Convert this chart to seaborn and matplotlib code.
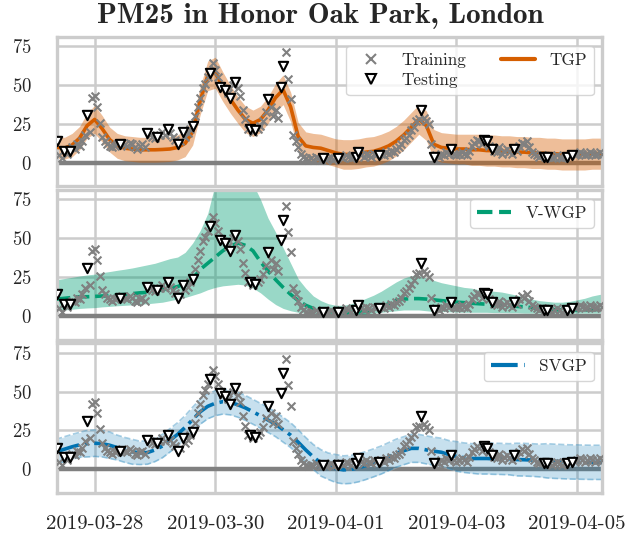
import pandas as pd
import seaborn as sns
import matplotlib.pyplot as plt
from matplotlib.lines import Line2D

# hourly PM2.5 readings, starting 2019-03-27 09:00
start = "2019-03-27 09:00"
pm25 = [
    14, 5, 3, 8, 6, 8, 10, 9, 12, 11, 14, 18,
    31, 20, 42, 43, 36, 26, 17, 14, 12, 11, 10, 11,
    12, 12, 13, 12, 11, 13, 12, 10, 9, 11, 12, 10,
    19, 18, 17, 16, 17, 18, 20, 18, 22, 19, 17, 15,
    12, 14, 20, 17, 19, 22, 24, 30, 36, 42, 48, 51,
    55, 58, 64, 60, 55, 49, 48, 47, 45, 42, 50, 52,
    48, 43, 34, 28, 22, 22, 20, 21, 22, 24, 27, 33,
    41, 36, 30, 34, 29, 49, 62, 71, 54, 41, 18, 14,
    10, 6, 4, 3, 2, 3, 2, 4, 3, 2, 3, 2,
    3, 4, 2, 3, 3, 4, 3, 5, 4, 3, 4, 4,
    7, 5, 4, 6, 5, 4, 6, 5, 5, 6, 5, 7,
    6, 8, 7, 9, 10, 12, 15, 16, 18, 21, 23, 27,
    28, 34, 29, 27, 25, 12, 4, 5, 4, 6, 5, 7,
    6, 9, 6, 5, 6, 7, 6, 5, 8, 11, 13, 15,
    14, 12, 15, 14, 11, 9, 8, 7, 10, 6, 8, 9,
    7, 6, 9, 8, 11, 13, 12, 14, 10, 7, 6, 5,
    4, 5, 4, 4, 4, 3, 4, 5, 4, 3, 4, 4,
    5, 5, 5, 6, 7, 6, 5, 6, 7, 6, 5, 6,
    7, 6,
]
# positions of the held-out (testing) readings
test_idx = [0, 3, 5, 12, 25, 36, 40, 44, 48, 50, 54, 61, 65, 67, 69, 71, 77, 79,
            84, 89, 90, 106, 112, 119, 120, 128, 145, 150, 157, 170, 171, 173,
            182, 194, 195, 203, 205]

# model predictions on a 3-hourly grid, same start
tgp_mean = [10, 9.5, 11.5, 16, 24, 28, 22, 15, 11, 9.5,
            9, 8.5, 8.5, 8.5, 8.7, 9, 10, 12.6, 20, 40,
            56, 58, 49, 41, 34, 28, 25.5, 28, 34, 42,
            47, 36, 17, 11, 10, 9.5, 8, 6.5, 5.5, 5.5,
            6, 7, 7.5, 9, 11, 14, 18, 23, 28, 24,
            12, 10, 9.5, 9, 9, 8.5, 8.5, 8, 8, 7.5,
            7.5, 7, 7, 6.5, 6.5, 6, 6, 5.5, 5.5, 5.5,
            5.5, 6, 6, 6]
tgp_sd = [7, 7, 7.5, 7.5, 8, 9, 8.5, 8, 8, 8,
          8, 8, 8, 8, 8, 8, 8, 8.5, 8.5, 9,
          9.5, 10, 9.5, 9, 8.5, 8.5, 8.5, 8.5, 8.5, 9,
          9.5, 9.5, 9, 9, 9, 9, 9, 9, 9.5, 9.5,
          9.5, 9.5, 9.5, 9.5, 9.5, 9.5, 9.5, 9.5, 9.5, 9.5,
          9.5, 9.5, 9.5, 9.5, 9.5, 10, 10, 10, 10, 10,
          10, 10, 10, 10, 10, 10, 10, 10, 10, 10,
          10, 10, 10, 10]

vwgp_mean = [11, 11.5, 12, 12.5, 12.5, 12.7, 13, 13, 13.5, 14,
             14.5, 15, 15.3, 16, 17, 18, 19, 21, 24, 30,
             34, 38, 42, 45, 47, 45.5, 42, 35, 29, 23.5,
             18.5, 14, 10, 7, 5, 4, 3, 2.7, 2.5, 2.5,
             2.7, 3, 4, 6, 8, 10, 11, 11.3, 11.3, 11,
             10.5, 10, 9.5, 9, 8.7, 8.3, 8, 7.7, 7.3, 7,
             6.7, 6.3, 6, 5.5, 5, 4.5, 4.2, 4, 4, 4,
             4, 4.2, 4.5, 4.5]
vwgp_hi = [23.5, 24.2, 25, 25.8, 26.5, 27, 28, 28.7, 29.5, 30.2,
           31, 32, 33, 34, 35.5, 37, 38, 41, 47, 55,
           66, 85, 85, 85, 85, 85, 85, 75, 63, 54,
           44, 34, 24, 18, 13, 10, 8, 7, 7, 8,
           9.5, 11.5, 13.5, 16, 19, 22, 24.5, 26, 26, 24.5,
           23, 21.5, 20.5, 19.5, 18.5, 18, 17, 16.5, 16, 15.5,
           14.5, 13.5, 12.5, 11, 10, 9.5, 9, 9, 9.5, 10.5,
           11.5, 13, 14, 14.5]
vwgp_lo = [3.5, 4, 4.5, 5, 5.3, 5.5, 6, 6.3, 6.7, 7,
           7.3, 7.7, 8, 8.5, 9, 10, 11, 12, 13.5, 15,
           17, 18.5, 19.5, 20, 20.5, 20, 18, 15, 11, 7.5,
           5, 3.5, 2.5, 2, 1.5, 1.5, 1.2, 1.2, 1.2, 1.2,
           1.3, 1.5, 2, 2.5, 3, 3.5, 4, 4, 4, 3.5,
           3, 3, 2.8, 2.7, 2.5, 2.5, 2.5, 2.5, 2.3, 2.3,
           2.2, 2.2, 2, 2, 2, 2, 2, 2, 2, 2,
           2, 2, 2, 2]

svgp_mean = [11.5, 13, 14.5, 15.8, 16.5, 16.8, 16.5, 15.5, 14, 12.5,
             11.3, 10.6, 10.8, 12.5, 15, 18.7, 22.5, 27, 32, 37,
             40.5, 42.5, 43.5, 43, 41.5, 39.5, 37, 34.4, 31.7, 29,
             25.5, 22, 17.5, 12.5, 8, 4.2, 2, 0.5, -0.3, 0,
             1, 2.5, 4.2, 6, 8.2, 10.4, 12, 13.5, 13.5, 12.5,
             11.7, 11, 9.5, 8.3, 7.5, 7, 7, 7, 6.8, 6.7,
             6.5, 6.3, 6.2, 6, 5.7, 5.5, 5.2, 5, 4.8, 4.7,
             4.6, 4.5, 4.5, 4.5]
svgp_sd = [8, 8, 8, 8, 8.5, 8.5, 8.5, 8.5, 8, 8,
           8, 7.5, 7.5, 7.5, 7.5, 7.5, 7.5, 7.5, 8, 8,
           8, 8, 8, 8, 8, 8, 8, 8, 8, 8,
           8, 8, 8, 8, 8, 8.5, 8.5, 9, 9, 9,
           9, 9, 9, 9, 9, 9, 9, 9, 9, 9,
           9, 9, 9, 9.5, 9.5, 9.5, 10, 10, 10, 10,
           10, 10.5, 10.5, 10.5, 10.5, 11, 11, 11, 11, 11,
           11, 11, 11, 11]

date_ticks = ["2019-03-28", "2019-03-30", "2019-04-01", "2019-04-03", "2019-04-05"]

hours = pd.date_range(start, periods=len(pm25), freq="h")
grid = pd.date_range(start, periods=len(tgp_mean), freq="3h")
obs = pd.DataFrame({"time": hours, "pm25": pm25})
obs["split"] = "train"
obs.loc[test_idx, "split"] = "test"
train = obs[obs.split == "train"]
test = obs[obs.split == "test"]

pred = pd.DataFrame({"time": grid})
pred["tgp_lo"] = [m - s for m, s in zip(tgp_mean, tgp_sd)]
pred["tgp_hi"] = [m + s for m, s in zip(tgp_mean, tgp_sd)]
pred["svgp_lo"] = [m - s for m, s in zip(svgp_mean, svgp_sd)]
pred["svgp_hi"] = [m + s for m, s in zip(svgp_mean, svgp_sd)]

sns.set_theme(style="whitegrid", rc={
    "axes.edgecolor": "0.8", "axes.linewidth": 2.4,
    "grid.color": "0.8", "grid.linewidth": 1.8,
})
plt.rcParams["font.family"] = ["cmr10", "DejaVu Serif"]
plt.rcParams["axes.formatter.use_mathtext"] = True

orange, green, blue = "#d55e00", "#029e73", "#0173b2"

fig, axes = plt.subplots(3, 1, sharex=True, figsize=(6.4, 5.35), dpi=100)
fig.subplots_adjust(left=0.089, right=0.941, top=0.931, bottom=0.079, hspace=0.025)

models = [
    ("TGP", tgp_mean, pred.tgp_lo, pred.tgp_hi, orange, "-"),
    ("V-WGP", vwgp_mean, vwgp_lo, vwgp_hi, green, "--"),
    ("SVGP", svgp_mean, pred.svgp_lo, pred.svgp_hi, blue, "-."),
]

train_h = Line2D([], [], marker="x", ls="none", color="grey", mew=1.5, ms=6.5)
test_h = Line2D([], [], marker="v", ls="none", mfc="white", mec="black", mew=1.5, ms=7.5)

for ax, (name, mean, lo, hi, c, ls) in zip(axes, models):
    ax.axhline(0, color="0.5", lw=3.2, zorder=1)
    if name == "SVGP":
        ax.fill_between(grid, lo, hi, facecolor=c, alpha=0.22, zorder=2)
        ax.fill_between(grid, lo, hi, facecolor="none", edgecolor=c, alpha=0.35,
                        linestyle="--", lw=1.2, zorder=2)
    else:
        ax.fill_between(grid, lo, hi, color=c, alpha=0.4, lw=0, zorder=2)
    sns.lineplot(x=grid, y=mean, ax=ax, color=c, lw=2.6, linestyle=ls, zorder=3)
    sns.scatterplot(data=train, x="time", y="pm25", ax=ax, marker="x", color="grey",
                    s=32, linewidth=1.5, zorder=4)
    sns.scatterplot(data=test, x="time", y="pm25", ax=ax, marker="v", facecolor="white",
                    edgecolor="black", s=45, linewidth=1.5, zorder=5)

    ax.set_ylim(-15, 81)
    ax.set_yticks([0, 25, 50, 75])
    ax.set_xlim(hours[0], hours[-1])
    ax.set(xlabel="", ylabel="")
    ax.tick_params(axis="y", labelsize=13.5, pad=12)
    ax.tick_params(axis="x", labelsize=15, pad=10)

    line_h = Line2D([], [], color=c, lw=3, linestyle=ls)
    leg_kw = dict(loc="upper right", fontsize=12.4, frameon=True, edgecolor="0.8",
                  framealpha=0.8, fancybox=True, labelspacing=0.3)
    if name == "TGP":
        ax.legend([train_h, test_h, line_h], ["Training", "Testing", name], ncol=2, **leg_kw)
    else:
        ax.legend([line_h], [name], **leg_kw)

axes[-1].set_xticks(pd.to_datetime(date_ticks))
axes[-1].set_xticklabels(date_ticks)

fig.suptitle("PM25 in Honor Oak Park, London", fontfamily=["cmb10", "DejaVu Serif"],
             fontsize=21, y=0.971, va="center")

fig.savefig("out.png", dpi=100)
